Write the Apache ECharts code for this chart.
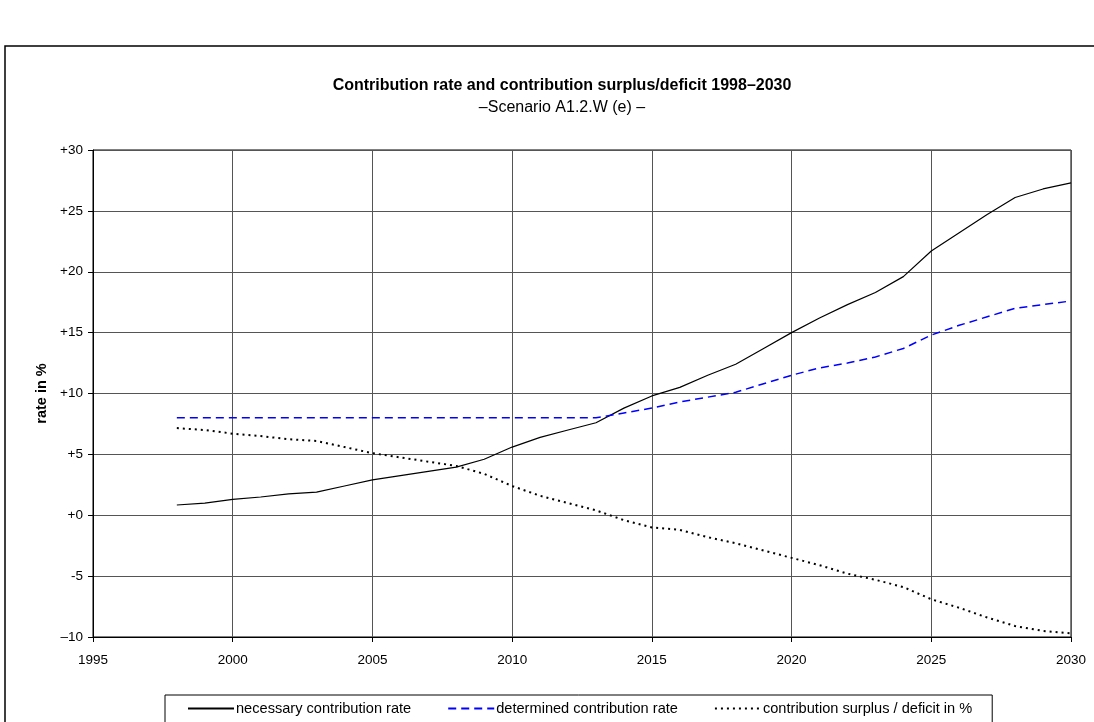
<!DOCTYPE html>
<html>
<head>
<meta charset="utf-8">
<script src="https://cdn.jsdelivr.net/npm/echarts@6/dist/echarts.min.js"></script>
<style>
html,body{margin:0;padding:0;background:#fff;}
#chart{width:1094px;height:722px;}
</style>
</head>
<body>
<div id="chart"></div>
<script>
const years = [1998,1999,2000,2001,2002,2003,2004,2005,2006,2007,2008,2009,2010,2011,2012,2013,2014,2015,2016,2017,2018,2019,2020,2021,2022,2023,2024,2025,2026,2027,2028,2029,2030];
const necessaryRate = [0.84,1.0,1.3,1.5,1.75,1.9,2.4,2.9,3.25,3.6,3.95,4.6,5.6,6.4,7.0,7.6,8.8,9.8,10.5,11.5,12.4,13.7,15.0,16.2,17.3,18.3,19.6,21.7,23.2,24.7,26.1,26.8,27.3];
const determinedRate = [8,8,8,8,8,8,8,8,8,8,8,8,8,8,8,8,8.4,8.8,9.3,9.7,10.1,10.8,11.5,12.1,12.5,13.0,13.7,14.8,15.6,16.3,17.0,17.3,17.6];
const surplusDeficit = [7.16,7.0,6.7,6.5,6.25,6.1,5.6,5.1,4.75,4.4,4.05,3.4,2.4,1.6,1.0,0.4,-0.4,-1.0,-1.2,-1.8,-2.3,-2.9,-3.5,-4.1,-4.8,-5.3,-5.9,-6.9,-7.6,-8.4,-9.1,-9.5,-9.7];
const yTickValues = [-10,-5,0,5,10,15,20,25,30];
const yTickLabels = ['\u201310','-5','+0','+5','+10','+15','+20','+25','+30'];
const seriesNames = ['necessary contribution rate','determined contribution rate','contribution surplus / deficit in %'];
const titleText = 'Contribution rate and contribution surplus/deficit 1998\u20132030';
const subtitleText = '\u2013Scenario A1.2.W (e) \u2013';

const pairs = arr => years.map((y,i)=>[y,arr[i]]);
const font = 'Liberation Sans, Arial, sans-serif';

const chart = echarts.init(document.getElementById('chart'), null, {renderer:'canvas'});
chart.setOption({
  animation:false,
  backgroundColor:'#fff',
  title:{
    text:titleText,
    subtext:subtitleText,
    left:557, top:73, textAlign:'center',
    itemGap:6,
    textStyle:{fontFamily:font,fontSize:16,fontWeight:'bold',color:'#000'},
    subtextStyle:{fontFamily:font,fontSize:16,color:'#000'}
  },
  graphic:[{
    type:'rect', shape:{x:5,y:46,width:1200,height:800},
    style:{fill:'none',stroke:'#000',lineWidth:1.5}, silent:true
  }],
  legend:{
    left:165, top:695,
    padding:[6,20,20,22],
    borderColor:'#000', borderWidth:1,
    itemWidth:46, itemHeight:8, itemGap:36,
    itemStyle:{opacity:0},
    textStyle:{fontFamily:font,fontSize:14.6,color:'#000',padding:[0,0,0,-3]},
    data:seriesNames
  },
  grid:{left:93,right:23,top:150,bottom:85,show:true,borderColor:'#000',borderWidth:1},
  xAxis:{
    type:'value', min:1995, max:2030, interval:5,
    axisLine:{onZero:false,lineStyle:{color:'#000',width:1}},
    axisTick:{show:true,length:5,inside:false,lineStyle:{color:'#000'}},
    axisLabel:{color:'#000',fontFamily:font,fontSize:13.5,margin:16,formatter:v=>String(v)},
    splitLine:{show:true,lineStyle:{color:'#555',width:1}}
  },
  yAxis:{
    type:'value', min:-10, max:30, interval:5,
    name:'rate in %', nameLocation:'middle', nameGap:44, nameRotate:90,
    nameTextStyle:{fontFamily:font,fontSize:14.5,fontWeight:'bold',color:'#000'},
    axisLine:{show:true,onZero:false,lineStyle:{color:'#000',width:1}},
    axisTick:{show:true,length:5,lineStyle:{color:'#000'}},
    axisLabel:{color:'#000',fontFamily:font,fontSize:13.5,margin:10,
      formatter:v=>{const i=yTickValues.indexOf(v);return i>=0?yTickLabels[i]:String(v);}},
    splitLine:{show:true,lineStyle:{color:'#555',width:1}}
  },
  series:[
    {name:seriesNames[0],type:'line',data:pairs(necessaryRate),symbol:'none',
      lineStyle:{color:'#000',width:1.2,type:'solid'},itemStyle:{color:'#000'}},
    {name:seriesNames[1],type:'line',data:pairs(determinedRate),symbol:'none',
      lineStyle:{color:'#0000ff',width:1.5,type:[8,5]},itemStyle:{color:'#0000ff'}},
    {name:seriesNames[2],type:'line',data:pairs(surplusDeficit),symbol:'none',
      lineStyle:{color:'#000',width:2,type:[2,4]},itemStyle:{color:'#000'}}
  ]
});
</script>
</body>
</html>
